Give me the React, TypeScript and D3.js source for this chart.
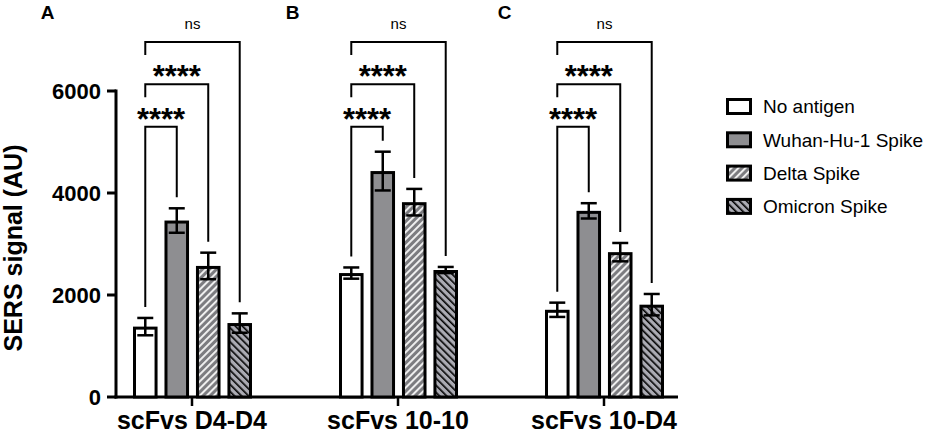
import React from "react";
import * as d3 from "d3";

const groups = ["scFvs D4-D4", "scFvs 10-10", "scFvs 10-D4"];
const panelLetters = ["A", "B", "C"];
const series = ["No antigen", "Wuhan-Hu-1 Spike", "Delta Spike", "Omicron Spike"];
const means = [
  [1380, 3460, 2570, 1450],
  [2430, 4430, 3820, 2490],
  [1710, 3650, 2840, 1810],
];
const errors = [
  [170, 240, 260, 190],
  [110, 380, 260, 60],
  [140, 150, 180, 210],
];
// comparisons of "No antigen" against series 1, 2, 3
const bracketLabels = ["****", "****", "ns"];
const bracketLevels = [5300, 6130, 6960];
const yTicks = [0, 2000, 4000, 6000];

const fills = ["#ffffff", "#8e8e91", "url(#delta)", "url(#omicron)"];
const font = "'Liberation Sans', Arial, Helvetica, sans-serif";

const App: React.FC = () => {
  const width = 934;
  const height = 435;

  const y = d3.scaleLinear().domain([0, 6000]).range([397, 91]);
  const x = d3.scalePoint<string>().domain(groups).range([192, 604]);
  const inner = d3
    .scaleBand<string>()
    .domain(series)
    .range([-59, 60])
    .paddingInner(0.22);
  const bw = inner.bandwidth();
  const cx = (g: string, s: string) => (x(g) ?? 0) + (inner(s) ?? 0) + bw / 2;

  const axisLeft = 116;
  const axisRight = 678;
  const gap = 11;

  return (
    <div style={{ position: "absolute", left: 0, top: 0 }}>
      <svg width={width} height={height} style={{ display: "block", fontFamily: font }}>
        <defs>
          <pattern id="delta" width={5} height={5} patternUnits="userSpaceOnUse" patternTransform="rotate(45)">
            <rect width={5} height={5} fill="#7c7c80" />
            <rect width={1.9} height={5} fill="#f4f4f4" />
          </pattern>
          <pattern id="omicron" width={5} height={5} patternUnits="userSpaceOnUse" patternTransform="rotate(-45)">
            <rect width={5} height={5} fill="#ababb3" />
            <rect width={1.6} height={5} fill="#000000" />
          </pattern>
        </defs>

        {/* y axis */}
        <line x1={axisLeft} x2={axisLeft} y1={y(6000) - 1.5} y2={y(0) + 1.5} stroke="#000" strokeWidth={3} />
        {yTicks.map((t) => (
          <g key={t}>
            <line x1={axisLeft - 9} x2={axisLeft} y1={y(t)} y2={y(t)} stroke="#000" strokeWidth={3} />
            <text x={101} y={y(t)} dy="0.36em" textAnchor="end" fontSize={22} fontWeight="bold">
              {t}
            </text>
          </g>
        ))}
        <text
          transform={`translate(22,${(y(0) + y(6000)) / 2 + 4}) rotate(-90)`}
          textAnchor="middle"
          fontSize={25}
          fontWeight="bold"
        >
          SERS signal (AU)
        </text>

        {/* x axis */}
        <line x1={axisLeft - 1.5} x2={axisRight} y1={y(0)} y2={y(0)} stroke="#000" strokeWidth={3} />
        {groups.map((g, gi) => (
          <g key={g}>
            <line x1={x(g)} x2={x(g)} y1={y(0)} y2={y(0) + 9} stroke="#000" strokeWidth={2.5} />
            <text x={x(g)} y={429} textAnchor="middle" fontSize={25} fontWeight="bold">
              {g}
            </text>
            <text x={[47.5, 292.5, 504.5][gi]} y={19} textAnchor="middle" fontSize={19} fontWeight="bold">
              {panelLetters[gi]}
            </text>
          </g>
        ))}

        {/* bars and error bars */}
        {groups.map((g, gi) =>
          series.map((s, si) => {
            const x0 = (x(g) ?? 0) + (inner(s) ?? 0);
            const v = means[gi][si];
            const e = errors[gi][si];
            const c = cx(g, s);
            return (
              <g key={g + s}>
                <rect
                  x={x0 + 1.5}
                  y={y(v) + 1.5}
                  width={bw - 3}
                  height={y(0) - y(v) - 1.5}
                  fill={fills[si]}
                  stroke="#000"
                  strokeWidth={3}
                />
                <g stroke="#000" strokeWidth={2.5}>
                  <line x1={c} x2={c} y1={y(v + e)} y2={y(v - e)} />
                  <line x1={c - 8} x2={c + 8} y1={y(v + e)} y2={y(v + e)} />
                  <line x1={c - 8} x2={c + 8} y1={y(v - e)} y2={y(v - e)} />
                </g>
              </g>
            );
          })
        )}

        {/* significance brackets */}
        {groups.map((g, gi) =>
          bracketLabels.map((lab, bi) => {
            const target = series[bi + 1];
            const xl = cx(g, series[0]);
            const xr = cx(g, target);
            const by = y(bracketLevels[bi]);
            const rightEnd = y(means[gi][bi + 1] + errors[gi][bi + 1]) - gap;
            const leftEnd = bi === 0 ? y(means[gi][0] + errors[gi][0]) - gap : by + 13;
            const mid = (xl + xr) / 2;
            return (
              <g key={g + lab + bi}>
                <path
                  d={`M${xl},${leftEnd}V${by}H${xr}V${rightEnd}`}
                  fill="none"
                  stroke="#000"
                  strokeWidth={2}
                />
                {lab === "ns" ? (
                  <text x={mid} y={by - 13} textAnchor="middle" fontSize={15}>
                    {lab}
                  </text>
                ) : (
                  <text x={mid} y={by + 3} textAnchor="middle" fontSize={31} fontWeight="bold">
                    {lab}
                  </text>
                )}
              </g>
            );
          })
        )}

        {/* legend */}
        {series.map((s, si) => {
          const ly = 106.5 + si * 33.3;
          return (
            <g key={s}>
              <rect x={727.5} y={ly - 7} width={23} height={14} fill={fills[si]} stroke="#000" strokeWidth={3} />
              <text x={763} y={ly} dy="0.36em" fontSize={19}>
                {s}
              </text>
            </g>
          );
        })}
      </svg>
    </div>
  );
};

export default App;
